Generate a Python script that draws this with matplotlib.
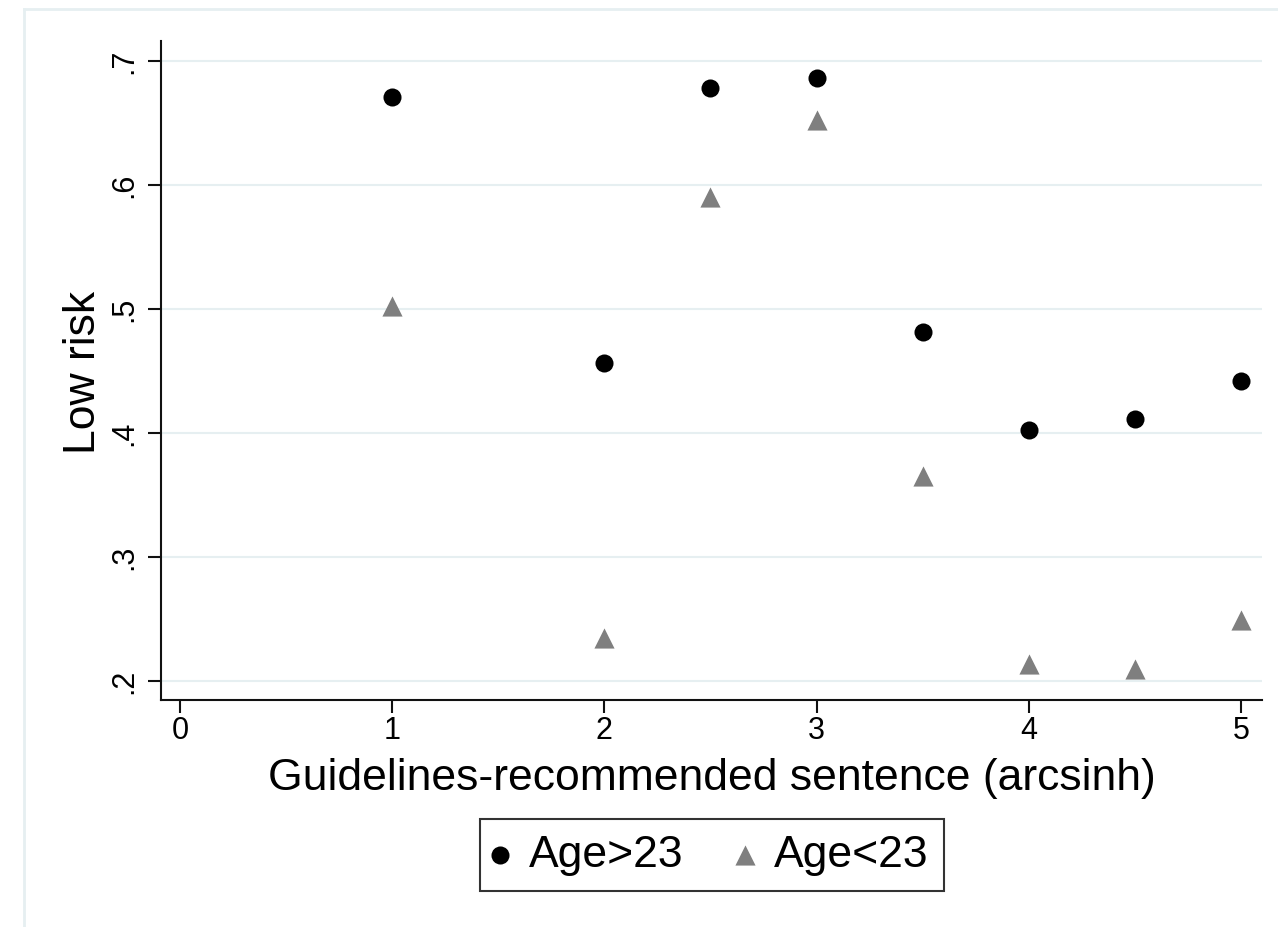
import matplotlib
matplotlib.use("Agg")
import matplotlib.pyplot as plt
from matplotlib.lines import Line2D

plt.rcParams['font.family'] = ['Liberation Sans', 'DejaVu Sans']

# Data
x_vals = [1, 2, 2.5, 3, 3.5, 4, 4.5, 5]
age_over_23 = [0.671, 0.456, 0.678, 0.686, 0.481, 0.402, 0.411, 0.442]
age_under_23 = [0.502, 0.235, 0.590, 0.652, 0.365, 0.214, 0.210, 0.249]
x_ticks = [0, 1, 2, 3, 4, 5]
y_ticks = [0.2, 0.3, 0.4, 0.5, 0.6, 0.7]
y_ticklabels = ['.2', '.3', '.4', '.5', '.6', '.7']
series_labels = ['Age>23', 'Age<23']

fig = plt.figure(figsize=(12.78, 9.27), dpi=100)
ax = fig.add_axes([161/1278, 1 - 700/927, (1262-161)/1278, (700-41)/927])

# faint outer frame
frame_col = '#e6eff1'
fig.add_artist(Line2D([23.5/1278, 1.0], [1 - 9/927, 1 - 9/927], transform=fig.transFigure,
                      color=frame_col, lw=2))
fig.add_artist(Line2D([23.5/1278, 23.5/1278], [0.0, 1 - 9/927], transform=fig.transFigure,
                      color=frame_col, lw=2))

ax.scatter(x_vals, age_over_23, marker='o', s=13**2, color='black', linewidths=0,
           label=series_labels[0], zorder=3)
ax.scatter(x_vals, age_under_23, marker='^', s=14.5**2, color='#7f7f7f', linewidths=0,
           label=series_labels[1], zorder=3)

ax.set_xlim(-0.09, 5.1)
ax.set_ylim(0.1847, 0.716)
ax.set_xticks(x_ticks)
ax.set_xticklabels([str(t) for t in x_ticks])
ax.set_yticks(y_ticks)
ax.set_yticklabels(y_ticklabels, rotation=90, va='center')

ax.grid(axis='y', color='#e6eff1', lw=1.5, zorder=0)
ax.set_axisbelow(True)

for s in ['top', 'right']:
    ax.spines[s].set_visible(False)
for s in ['left', 'bottom']:
    ax.spines[s].set_linewidth(1.5)
    ax.spines[s].set_color('#111111')

ax.tick_params(axis='both', direction='out', length=9.5, width=1.5, color='#111111',
               labelsize=22)
ax.tick_params(axis='x', pad=2)
ax.tick_params(axis='y', pad=6)

ax.set_xlabel('Guidelines-recommended sentence (arcsinh)', fontsize=32)
ax.set_ylabel('Low risk', fontsize=32)
ax.xaxis.set_label_coords(0.5, -0.088)
ax.yaxis.set_label_coords(-0.052, 0.497)

leg = fig.legend(loc='center', bbox_to_anchor=(712/1278, 1 - 855/927), ncol=2,
                 fontsize=32, frameon=True, fancybox=False, edgecolor='black',
                 handlelength=0.2, handletextpad=0.55, columnspacing=1.27,
                 borderpad=0.35, scatterpoints=1, borderaxespad=0)
leg.get_frame().set_linewidth(1.5)

fig.savefig('out.png', dpi=100, facecolor='white')
